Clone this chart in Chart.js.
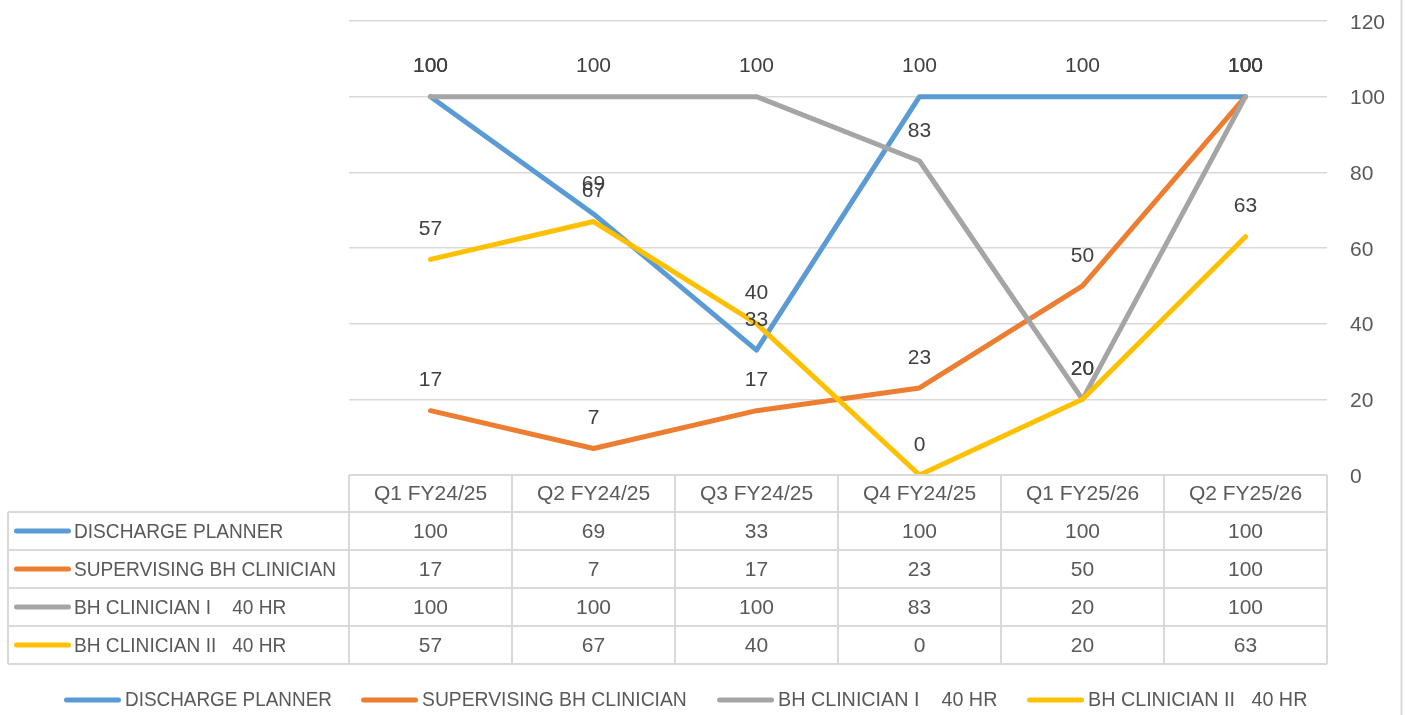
<!DOCTYPE html>
<html><head><meta charset="utf-8">
<script src="https://cdn.jsdelivr.net/npm/chart.js@4.4.1/dist/chart.umd.min.js"></script>
<style>html,body{margin:0;padding:0;background:#fff;}canvas{display:block;}</style>
</head><body>
<canvas id="c" width="1406" height="715"></canvas>
<script>
const categories = ['Q1 FY24/25','Q2 FY24/25','Q3 FY24/25','Q4 FY24/25','Q1 FY25/26','Q2 FY25/26'];
const seriesNames = ['DISCHARGE PLANNER','SUPERVISING BH CLINICIAN','BH CLINICIAN I    40 HR','BH CLINICIAN II   40 HR'];
const dischargePlanner = [100,69,33,100,100,100];
const supervisingBH = [17,7,17,23,50,100];
const bhClinician1 = [100,100,100,83,20,100];
const bhClinician2 = [57,67,40,0,20,63];
const yMin = 0, yMax = 120, yStep = 20;
const seriesColors = ['#5B9BD5','#ED7D31','#A5A5A5','#FFC000'];
const allSeries = [dischargePlanner, supervisingBH, bhClinician1, bhClinician2];

const FONT = '"Liberation Sans", Arial, sans-serif';
const TXT = '#595959';
const GRID = '#d9d9d9';
const NAME_SX = 0.91;
const LEGEND_KEY_X = [64, 361, 717, 1027];

function drawName(ctx, text, x, y, sx) {
  const s = sx || NAME_SX;
  const w = ctx.measureText(text).width * s;
  ctx.save();
  ctx.translate(x, y);
  ctx.scale(s, 1);
  ctx.textAlign = 'left';
  ctx.textBaseline = 'middle';
  ctx.fillText(text, 0, 0);
  ctx.restore();
  return w;
}
function drawKey(ctx, x1, x2, y, color) {
  ctx.save();
  ctx.strokeStyle = color; ctx.lineWidth = 5; ctx.lineCap = 'round';
  ctx.beginPath(); ctx.moveTo(x1 + 2.5, y); ctx.lineTo(x2 - 2.5, y); ctx.stroke();
  ctx.restore();
}

const extras = {
  id: 'extras',
  afterDatasetsDraw(chart) {
    const ctx = chart.ctx;
    ctx.save();
    ctx.font = '21px ' + FONT;
    ctx.fillStyle = '#404040';
    ctx.textAlign = 'center';
    ctx.textBaseline = 'middle';
    chart.data.datasets.forEach((ds, i) => {
      const meta = chart.getDatasetMeta(i);
      meta.data.forEach((pt, j) => {
        ctx.fillText(String(ds.data[j]), pt.x, pt.y - 30);
      });
    });
    ctx.restore();
  },
  afterDraw(chart) {
    const ctx = chart.ctx;
    const xs = chart.scales.x;
    const area = chart.chartArea;
    const L = area.left, R = area.right, T = area.bottom;
    const step = xs.getPixelForValue(1) - xs.getPixelForValue(0);
    const rows = [T, T + 37, T + 75, T + 113, T + 151, T + 189];
    const leftX = 8;
    ctx.save();
    ctx.strokeStyle = GRID; ctx.lineWidth = 2;
    ctx.beginPath();
    ctx.moveTo(L, rows[0]); ctx.lineTo(R, rows[0]);
    for (let r = 1; r < rows.length; r++) { ctx.moveTo(leftX, rows[r]); ctx.lineTo(R, rows[r]); }
    ctx.moveTo(leftX, rows[1]); ctx.lineTo(leftX, rows[5]);
    for (let k = 0; k <= categories.length; k++) {
      const x = L + k * step;
      ctx.moveTo(x, rows[0]); ctx.lineTo(x, rows[5]);
    }
    ctx.moveTo(1401.5, 0); ctx.lineTo(1401.5, 715);
    ctx.stroke();

    ctx.fillStyle = TXT;
    ctx.font = '21px ' + FONT;
    ctx.textAlign = 'center'; ctx.textBaseline = 'middle';
    categories.forEach((c, j) => {
      ctx.fillText(c, xs.getPixelForValue(j), (rows[0] + rows[1]) / 2 + 1);
    });
    allSeries.forEach((s, i) => {
      const yc = (rows[i + 1] + rows[i + 2]) / 2 + 1;
      s.forEach((v, j) => {
        ctx.textAlign = 'center';
        ctx.fillText(String(v), xs.getPixelForValue(j), yc);
      });
      drawKey(ctx, 14, 71, yc - 1, seriesColors[i]);
      drawName(ctx, seriesNames[i], 74, yc);
    });

    const ly = 700;
    const legendSX = [0.90, 0.92, 0.94, 0.94];
    seriesNames.forEach((n, i) => {
      const x = LEGEND_KEY_X[i];
      drawKey(ctx, x, x + 57, ly, seriesColors[i]);
      ctx.fillStyle = TXT;
      drawName(ctx, n, x + 61, ly, legendSX[i]);
    });
    ctx.restore();
  }
};

new Chart(document.getElementById('c'), {
  type: 'line',
  data: {
    labels: categories,
    datasets: allSeries.map((s, i) => ({
      label: seriesNames[i],
      data: s,
      borderColor: seriesColors[i],
      backgroundColor: seriesColors[i],
      borderWidth: 5,
      pointRadius: 0,
      tension: 0,
      fill: false,
      borderJoinStyle: 'round',
      borderCapStyle: 'round',
      order: 4 - i
    }))
  },
  options: {
    responsive: false,
    animation: false,
    layout: { padding: { left: 349, top: 21, bottom: 240, right: 0 } },
    plugins: { legend: { display: false }, tooltip: { enabled: false } },
    scales: {
      x: { type: 'category', display: false, offset: true },
      y: {
        position: 'right',
        min: yMin, max: yMax,
        ticks: { stepSize: yStep, color: TXT, font: { size: 21, family: FONT }, padding: 23, crossAlign: 'near', labelOffset: 2 },
        grid: { color: GRID, lineWidth: 1.5, drawTicks: false },
        border: { display: false },
        afterFit(s) { s.width = 79; s.paddingTop = 0; s.paddingBottom = 0; }
      }
    }
  },
  plugins: [extras]
});
</script>
</body></html>
